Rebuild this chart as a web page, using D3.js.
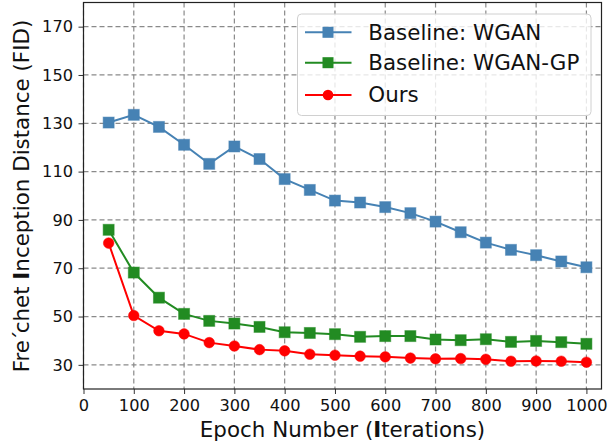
<!DOCTYPE html>
<html><head><meta charset="utf-8">
<script src="https://cdn.jsdelivr.net/npm/d3@7"></script>
<style>body{margin:0;background:#fff}svg{display:block;font-family:"DejaVu Sans",sans-serif}</style>
</head><body><svg id="c" width="616" height="442"></svg>
<script>
const epochs = [50,100,150,200,250,300,350,400,450,500,550,600,650,700,750,800,850,900,950,1000];
const wgan = [130.3,133.5,128.5,121.1,113.2,120.4,115.2,106.9,102.4,98.0,97.2,95.3,92.8,89.3,84.9,80.6,77.6,75.4,72.8,70.4];
const wganGP = [85.9,68.2,57.8,51.1,48.2,47.1,45.7,43.5,43.2,42.7,41.6,41.9,41.9,40.5,40.2,40.6,39.5,39.9,39.4,38.7];
const ours = [80.4,50.4,44.1,42.8,39.2,37.8,36.3,35.8,34.4,34.0,33.6,33.3,32.8,32.5,32.6,32.3,31.5,31.6,31.5,31.1];
const xTicks = [0,100,200,300,400,500,600,700,800,900,1000];
const yTicks = [30,50,70,90,110,130,150,170];
const seriesNames = ["Baseline: WGAN","Baseline: WGAN-GP","Ours"];
const seriesColors = ["#4682b4","#228b22","#ff0000"];
const seriesMarkers = ["square","square","circle"];

const svg = d3.select("#c");
const L=83.5, R=601.5, T=2.5, B=389;
const x = d3.scaleLinear().domain([0,1030]).range([L,R]);
const y = d3.scaleLinear().domain([20,180]).range([B,T]);

// grid
const g = svg.append("g");
g.selectAll(".gx").data(xTicks).join("line")
  .attr("x1",d=>x(d)).attr("x2",d=>x(d)).attr("y1",T).attr("y2",B)
  .attr("stroke","#8a8a8a").attr("stroke-width",1.2).attr("stroke-dasharray","5,3");
g.selectAll(".gy").data(yTicks).join("line")
  .attr("x1",L).attr("x2",R).attr("y1",d=>y(d)).attr("y2",d=>y(d))
  .attr("stroke","#8a8a8a").attr("stroke-width",1.2).attr("stroke-dasharray","5,3");

// axes
const xa = svg.append("g").attr("transform",`translate(0,${B})`)
  .call(d3.axisBottom(x).tickValues(xTicks).tickSize(5).tickPadding(5).tickFormat(d3.format("d")));
const ya = svg.append("g").attr("transform",`translate(${L},0)`)
  .call(d3.axisLeft(y).tickValues(yTicks).tickSize(5).tickPadding(5.5).tickFormat(d3.format("d")));
[xa,ya].forEach(a=>{
  a.select(".domain").remove();
  a.selectAll("text").attr("font-size",16.2).attr("fill","#111").attr("font-family","DejaVu Sans");
  a.selectAll("line").attr("stroke","#333").attr("stroke-width",1);
});
// spines
svg.append("rect").attr("x",L).attr("y",T).attr("width",R-L).attr("height",B-T)
  .attr("fill","none").attr("stroke","#222").attr("stroke-width",1.2);

// series
const allData = [wgan,wganGP,ours];
const line = d3.line().x((d,i)=>x(epochs[i])).y(d=>y(d));
allData.forEach((vals,k)=>{
  const col = seriesColors[k];
  svg.append("path").datum(vals).attr("d",line).attr("fill","none")
    .attr("stroke",col).attr("stroke-width",2);
  const pts = svg.append("g");
  if(seriesMarkers[k]==="square"){
    pts.selectAll("rect").data(vals).join("rect")
      .attr("x",(d,i)=>x(epochs[i])-5.5).attr("y",d=>y(d)-5.5)
      .attr("width",11).attr("height",11).attr("fill",col)
      .attr("stroke",col).attr("stroke-opacity",0.5).attr("stroke-width",1);
  } else {
    pts.selectAll("circle").data(vals).join("circle")
      .attr("cx",(d,i)=>x(epochs[i])).attr("cy",d=>y(d)).attr("r",5.3)
      .attr("fill",col).attr("stroke",col).attr("stroke-opacity",0.5).attr("stroke-width",1);
  }
});

// legend
const lg = svg.append("g");
lg.append("rect").attr("x",297.5).attr("y",14).attr("width",293.5).attr("height",101.5)
  .attr("rx",4).attr("fill","#fff").attr("fill-opacity",0.8).attr("stroke","#d0d0d0").attr("stroke-width",1);
const rows=[32.3,62.7,95];
seriesNames.forEach((name,k)=>{
  const yy=rows[k], col=seriesColors[k];
  lg.append("line").attr("x1",305).attr("x2",351.5).attr("y1",yy).attr("y2",yy).attr("stroke",col).attr("stroke-width",2);
  if(seriesMarkers[k]==="square") lg.append("rect").attr("x",328-5.5).attr("y",yy-5.5).attr("width",11).attr("height",11).attr("fill",col);
  else lg.append("circle").attr("cx",328).attr("cy",yy).attr("r",5.3).attr("fill",col);
  lg.append("text").attr("x",368.3).attr("y",yy+7.3).attr("font-size",21.4).attr("fill","#111").text(name);
});

// axis labels
const xl = svg.append("text").attr("x",(L+R)/2).attr("y",437).attr("text-anchor","middle")
  .attr("font-size",21.4).attr("fill","#111");
xl.append("tspan").text("Epoch Number (");
xl.append("tspan").attr("font-weight","bold").text("I");
xl.append("tspan").text("terations)");
const yl = svg.append("text").attr("transform",`translate(28.5,196) rotate(-90)`).attr("text-anchor","middle")
  .attr("font-size",21.4).attr("fill","#111");
yl.append("tspan").text("Fre");
yl.append("tspan").attr("dx",-1).text("´");
yl.append("tspan").attr("dx",-3).text("chet ");
yl.append("tspan").attr("font-weight","bold").text("I");
yl.append("tspan").text("nception Distance (FID)");
</script></body></html>
